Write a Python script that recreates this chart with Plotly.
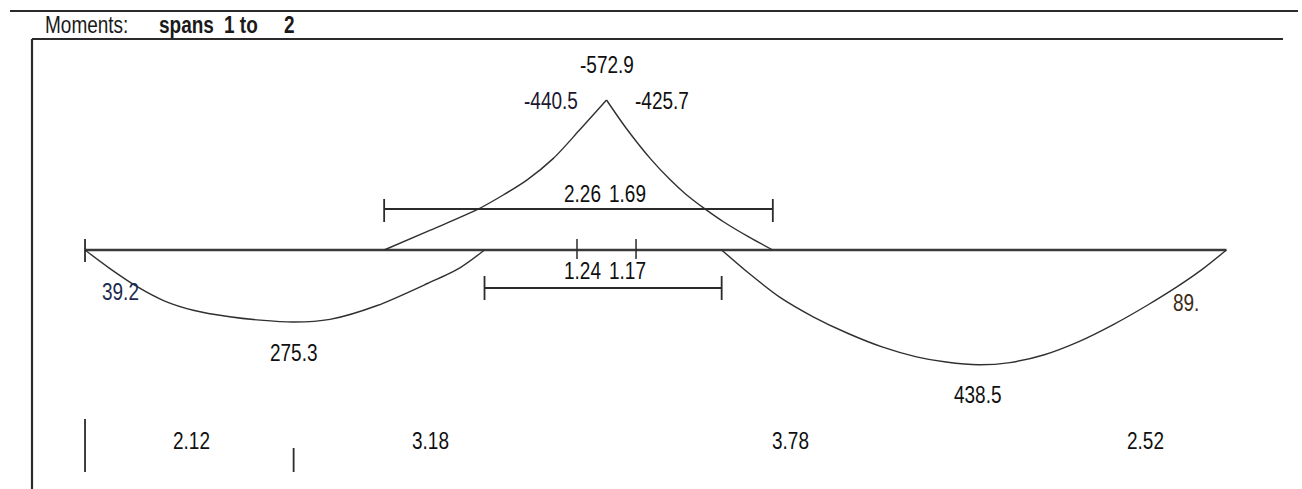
import plotly.graph_objects as go

# ---------------- data (metres, kNm; sagging positive, drawn below) ----------------
span_lengths = [5.30, 6.30]
segment_lengths = [2.12, 3.18, 3.78, 2.52]          # bottom dimension texts
support_faces = [5.00, 5.60]                         # small ticks either side of middle support

sag1_x = [0.00, 0.25, 0.53, 0.81, 1.10, 1.47, 1.78, 2.12, 2.49, 2.97, 3.48, 3.81, 4.06]
sag1_m = [0.0, 70.0, 140.0, 195.0, 230.0, 255.0, 268.0, 275.3, 265.0, 212.0, 128.0, 68.0, 0.0]

hog1_x = [3.04, 3.51, 3.98, 4.25, 4.49, 4.76, 5.03, 5.30]
hog1_m = [0.0, -76.0, -153.0, -210.0, -267.0, -350.0, -460.0, -572.9]

hog2_x = [5.30, 5.50, 5.75, 5.95, 6.10, 6.30, 6.50, 6.75, 6.99]
hog2_m = [-572.9, -465.0, -347.0, -267.0, -215.0, -157.0, -105.0, -49.0, 0.0]

sag2_x = [6.47, 6.75, 7.06, 7.40, 7.75, 8.10, 8.45, 8.75, 9.08, 9.40, 9.75, 10.10, 10.45, 10.80, 11.10, 11.35, 11.60]
sag2_m = [0.0, 90.0, 180.0, 255.0, 318.0, 370.0, 408.0, 428.0, 438.5, 430.0, 400.0, 350.0, 285.0, 210.0, 140.0, 75.0, 0.0]

shift_top = [2.26, 1.69]      # hogging extent left / right of support
shift_bottom = [1.24, 1.17]   # zone left / right of support
peak_labels = ["-440.5", "-572.9", "-425.7"]
span_max_labels = ["275.3", "438.5"]
end_labels = ["39.2", "89."]
title_parts = ["Moments:", "spans", "1 to", "2"]

# ---------------- derived geometry ----------------
x_left = 0.0
x_mid = x_left + span_lengths[0]
x_right = x_mid + span_lengths[1]

W, H = 1302, 489
X0, X1 = -0.864, 12.368
Y0, Y1 = 912.9, -954.9   # reversed: positive moments downward

def py2m(py):
    return Y1 + (Y0 - Y1) * py / H

LINE = "#2b2b2b"
FONT = "Liberation Sans, Arial, sans-serif"
FS = 19

fig = go.Figure()

def curve(xs, ms):
    fig.add_trace(go.Scatter(x=xs, y=ms, mode="lines",
                             line=dict(color="#303030", width=1.4, shape="spline", smoothing=0.8),
                             hoverinfo="skip", showlegend=False))

fig.add_trace(go.Scatter(x=[x_left, x_right], y=[0, 0], mode="lines",
                         line=dict(color="#3a3a3a", width=2.6), hoverinfo="skip", showlegend=False))
curve(sag1_x, sag1_m)
curve(hog1_x, hog1_m)
curve(hog2_x, hog2_m)
curve(sag2_x, sag2_m)

shapes = []
def seg(x0, y0, x1, y1, w=1.6, ref="data"):
    d = dict(type="line", x0=x0, y0=y0, x1=x1, y1=y1, line=dict(color=LINE, width=w), layer="above")
    if ref == "paper":
        d.update(xref="paper", yref="paper")
    else:
        d.update(xref="x", yref="y")
    shapes.append(d)

seg(x_left, py2m(239), x_left, py2m(262), 1.8)
for fx in support_faces:
    seg(fx, py2m(239), fx, py2m(259), 1.5)

ut0, ut1 = x_mid - shift_top[0], x_mid + shift_top[1]
yu = py2m(209)
seg(ut0, yu, ut1, yu, 1.8)
seg(ut0, py2m(199), ut0, py2m(222), 1.8)
seg(ut1, py2m(199), ut1, py2m(222), 1.8)

lb0, lb1 = x_mid - shift_bottom[0], x_mid + shift_bottom[1]
yl = py2m(288)
seg(lb0, yl, lb1, yl, 1.8)
seg(lb0, py2m(276), lb0, py2m(300), 1.8)
seg(lb1, py2m(276), lb1, py2m(300), 1.8)

seg(x_left, py2m(419), x_left, py2m(472), 1.8)
seg(x_left + segment_lengths[0], py2m(448), x_left + segment_lengths[0], py2m(472), 1.8)

seg(10 / W, 1 - 11 / H, 1298 / W, 1 - 11 / H, 2.2, "paper")
seg(32 / W, 1 - 39 / H, 1283 / W, 1 - 39 / H, 2.2, "paper")
seg(32 / W, 1 - 39 / H, 32 / W, 0, 2.2, "paper")

ann = []
def label(text, x, y, xs=0, ys=0, color="#101010", size=FS):
    ann.append(dict(text=text, x=x, y=y, xref="x", yref="y", xshift=xs, yshift=ys,
                    showarrow=False, font=dict(family=FONT, size=size, color=color),
                    xanchor="center", yanchor="middle"))

label(peak_labels[1], x_mid, hog1_m[-1], 0, 36)
label(peak_labels[0], x_mid, hog1_m[-1], -56, 0, "#1c1630")
label(peak_labels[2], x_mid, hog1_m[-1], 55, 0)
label(f"{shift_top[0]:.2f}", x_mid, yu, -24, 16)
label(f"{shift_top[1]:.2f}", x_mid, yu, 21, 16)
label(f"{shift_bottom[0]:.2f}", x_mid, yl, -24, 18)
label(f"{shift_bottom[1]:.2f}", x_mid, yl, 21, 18)
label(span_max_labels[0], x_left + segment_lengths[0], float(span_max_labels[0]), 0, -30)
label(span_max_labels[1], x_mid + segment_lengths[2], float(span_max_labels[1]), 0, -30)
label(end_labels[0], x_left, py2m(291), 35, 0, "#1c2b4f")
label(end_labels[1], x_right, py2m(302), -40, 0, "#3b2a14")
ybot = py2m(440)
label(f"{segment_lengths[0]:.2f}", x_left, ybot, 106, 0)
label(f"{segment_lengths[1]:.2f}", x_left, ybot, 345, 0)
label(f"{segment_lengths[2]:.2f}", x_left, ybot, 705, 0)
label(f"{segment_lengths[3]:.2f}", x_left, ybot, 1060, 0)

# title pieces
for txt, px, bold in zip(title_parts, [43, 157, 222, 282], [False, True, True, True]):
    ann.append(dict(text=f"<b>{txt}</b>" if bold else txt,
                    x=px / W, y=1 - 24 / H, xref="paper", yref="paper", showarrow=False,
                    xanchor="left", yanchor="middle",
                    font=dict(family=FONT, size=19, color="#1a1a1a")))

fig.update_layout(
    width=W, height=H,
    margin=dict(l=0, r=0, t=0, b=0),
    paper_bgcolor="white", plot_bgcolor="white",
    xaxis=dict(range=[X0, X1], visible=False, fixedrange=True),
    yaxis=dict(range=[Y0, Y1], visible=False, fixedrange=True),
    shapes=shapes, annotations=ann, showlegend=False,
)

post = """
document.body.style.margin = '0';
document.body.style.overflow = 'hidden';
var gd = document.getElementById('{plot_id}');
gd.querySelectorAll('text.annotation-text').forEach(function (t) {
  t.style.transformBox = 'fill-box';
  t.style.transformOrigin = 'center';
  t.style.transform = 'scaleY(1.3)';
});
"""

fig.write_html("out.html", post_script=post, config={"displayModeBar": False, "staticPlot": True})
